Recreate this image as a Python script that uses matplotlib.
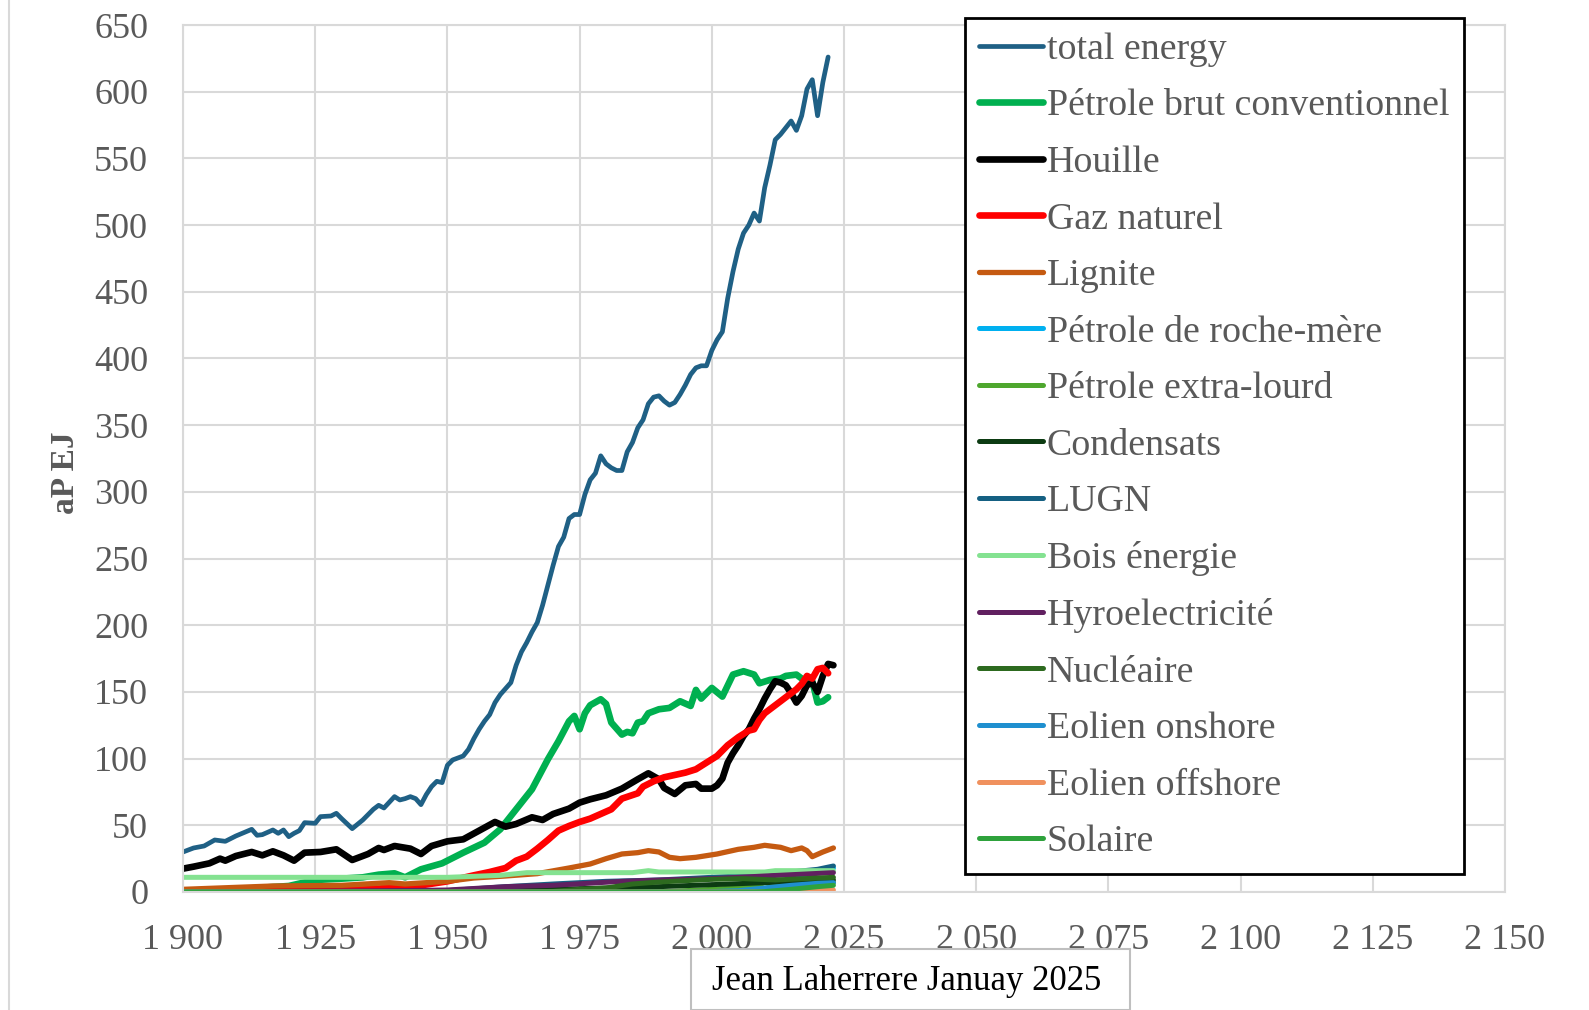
import matplotlib
matplotlib.use("Agg")
import matplotlib.pyplot as plt
from matplotlib.patches import Rectangle
from matplotlib.lines import Line2D

plt.rcParams["font.family"] = ["Liberation Serif", "DejaVu Serif"]

# ---- data (keypoint years / values, EJ) ----
total_years = [1900, 1902, 1904, 1906, 1908, 1910, 1913, 1914, 1915, 1917, 1918, 1919, 1920,
               1921, 1922, 1923, 1925, 1926, 1928, 1929, 1930, 1932, 1934, 1936, 1937, 1938,
               1940, 1941, 1942, 1943, 1944, 1945, 1946, 1947, 1948, 1949, 1950, 1951, 1953,
               1954, 1955, 1956, 1957, 1958, 1959, 1960, 1962, 1963, 1964, 1965, 1966, 1967,
               1968, 1969, 1970, 1971, 1972, 1973, 1974, 1975, 1976, 1977, 1978, 1979, 1980,
               1981, 1982, 1983, 1984, 1985, 1986, 1987, 1988, 1989, 1990, 1991, 1992, 1993,
               1994, 1995, 1996, 1997, 1998, 1999, 2000, 2001, 2002, 2003, 2004, 2005, 2006,
               2007, 2008, 2009, 2010, 2011, 2012, 2013, 2014, 2015, 2016, 2017, 2018, 2019,
               2020, 2021, 2022]
total_vals = [30, 33, 34.5, 39, 38, 42, 47, 42.5, 43, 46.5, 44, 46.5, 41.5,
              44, 46, 52, 51.5, 56.5, 57, 59, 55, 47.5, 54, 62, 65, 63,
              71.5, 69, 70, 71.5, 70, 65.5, 73, 79, 83, 82, 95, 99, 102,
              107, 115, 122, 128, 133, 142, 148, 157, 170, 180, 187, 195, 202,
              215, 230, 245, 259, 266, 280, 283, 283, 298, 309, 314, 327, 321,
              318, 316, 316, 330, 337, 348, 354, 366, 371, 372, 368, 365, 367,
              373, 380, 388, 393, 394.5, 394.5, 406, 414, 420, 445, 465, 482, 494,
              500, 509, 503, 528, 545, 564, 568, 573, 578, 571, 582, 602, 609,
              582, 607, 626]

oil_years = [1900, 1910, 1920, 1925, 1930, 1934, 1937, 1940, 1942, 1945, 1949, 1953, 1957,
             1960, 1963, 1965, 1966, 1967, 1969, 1971, 1973, 1974, 1975, 1976, 1977, 1979,
             1980, 1981, 1983, 1984, 1985, 1986, 1987, 1988, 1990, 1992, 1994, 1996, 1997,
             1998, 2000, 2002, 2004, 2006, 2008, 2009, 2011, 2013, 2014, 2016, 2017, 2018,
             2019, 2020, 2021, 2022]
oil_vals = [1, 2, 4.5, 9, 10, 11, 13, 14, 11, 17, 21.5, 29.5, 37,
            47, 62, 72, 77, 84.5, 99.5, 113, 128, 132, 122, 134, 140, 144.5,
            141, 127, 118, 120, 119, 127, 128, 134, 137, 138, 143, 139.5, 151.5,
            145, 153, 146.5, 163, 165.5, 163, 156.5, 159, 160, 162, 163, 160, 158,
            158, 142, 143, 146]

coal_years = [1900, 1902, 1905, 1907, 1908, 1910, 1913, 1915, 1917, 1919, 1921, 1923, 1926,
              1929, 1932, 1935, 1937, 1938, 1940, 1943, 1945, 1947, 1950, 1953, 1956, 1959,
              1961, 1963, 1966, 1968, 1970, 1973, 1975, 1977, 1980, 1983, 1986, 1988, 1990,
              1991, 1993, 1995, 1997, 1998, 2000, 2001, 2002, 2003, 2004, 2005, 2006, 2007,
              2008, 2009, 2010, 2011, 2012, 2013, 2014, 2015, 2016, 2017, 2018, 2019, 2020,
              2021, 2022, 2023]
coal_vals = [17.5, 19, 21.5, 25, 23.5, 27, 30, 27.5, 30.5, 27.5, 23.5, 29.5, 30,
             32, 24, 28.5, 33, 31.5, 34.5, 32.5, 28.5, 34.5, 38, 39.5, 46, 52.5,
             49, 51, 56, 54, 58.5, 62.5, 67, 69.5, 72.5, 77.5, 84.5, 89, 84.5,
             78, 73.5, 80, 81, 77.5, 77.5, 80, 85, 97, 104, 110, 117, 122,
             130, 137, 145, 152, 158, 157, 155, 149, 142, 147, 155, 157, 150,
             162, 171, 170]

gas_years = [1900, 1920, 1935, 1942, 1945, 1950, 1955, 1958, 1961, 1963, 1965, 1967, 1969,
             1971, 1973, 1975, 1977, 1979, 1981, 1983, 1986, 1987, 1989, 1991, 1995, 1997,
             1999, 2001, 2003, 2005, 2007, 2008, 2009, 2010, 2012, 2014, 2016, 2017, 2018,
             2019, 2020, 2021, 2022]
gas_vals = [0.5, 1, 2, 4, 5, 8, 12.5, 15, 18, 23.5, 26.5, 32.5, 39,
            46, 49.5, 52.5, 55, 58.5, 62, 70, 74, 79, 83, 86, 89.5, 92,
            97, 102, 110, 116, 121, 122, 129, 134, 140, 146, 152, 156, 162,
            160, 167, 168, 164]

lignite_years = [1900, 1917, 1930, 1939, 1942, 1950, 1955, 1961, 1967, 1973, 1977, 1980, 1983,
                 1986, 1988, 1990, 1992, 1994, 1997, 2001, 2005, 2008, 2010, 2013, 2015, 2017,
                 2018, 2019, 2021, 2023]
lignite_vals = [2, 4.5, 5, 7, 6, 8, 10.5, 12, 13.75, 18, 21, 25, 28.5,
                29.5, 31, 30, 26, 25, 26, 28.5, 32, 33.5, 35, 33.5, 31, 33,
                31, 26.5, 30, 33]

shale_years = [1900, 2008, 2010, 2012, 2014, 2015, 2016, 2018, 2019, 2020, 2021, 2023]
shale_vals = [0, 0, 1, 4, 8, 10, 9.5, 13, 16, 15, 15.5, 18]

heavy_years = [1900, 1990, 1995, 2000, 2008, 2010, 2012, 2015, 2023]
heavy_vals = [0, 0, 1, 2, 4, 7, 5, 6, 7]

cond_years = [1900, 1950, 1970, 1980, 1990, 2000, 2010, 2023]
cond_vals = [0, 0.5, 2, 3, 4, 5.5, 7, 9]

ngl_years = [1900, 1930, 1950, 1961, 1970, 1980, 1990, 2000, 2010, 2015, 2020, 2023]
ngl_vals = [0, 0.3, 1, 4, 6, 8, 9, 11, 13, 15, 17, 19.5]

wood_years = [1900, 1950, 1960, 1965, 1985, 1988, 1990, 2010, 2012, 2023]
wood_vals = [11, 11, 12.5, 14.5, 14.5, 16, 15, 15, 16, 16]

hydro_years = [1900, 1920, 1940, 1950, 1961, 1970, 1983, 1990, 2000, 2010, 2023]
hydro_vals = [0, 0.5, 1, 1.5, 4, 5, 8, 9, 10, 12, 14.5]

nuclear_years = [1900, 1965, 1970, 1975, 1980, 1985, 1990, 2000, 2006, 2012, 2023]
nuclear_vals = [0, 0, 0.5, 2, 3, 6, 7.5, 9.5, 10, 9, 11]

wind_on_years = [1900, 1995, 2000, 2005, 2010, 2015, 2020, 2023]
wind_on_vals = [0, 0, 0.3, 1, 3, 5, 6.5, 7]

wind_off_years = [1900, 2008, 2015, 2023]
wind_off_vals = [0, 0, 0.5, 1.5]

solar_years = [1900, 2008, 2010, 2015, 2020, 2023]
solar_vals = [0, 0, 0.3, 2, 4, 5]

series = [
    ("total energy", total_years, total_vals, "#1F6085", 3.4),
    ("Pétrole brut conventionnel", oil_years, oil_vals, "#00B050", 4.8),
    ("Houille", coal_years, coal_vals, "#000000", 4.8),
    ("Gaz naturel", gas_years, gas_vals, "#FF0000", 4.8),
    ("Lignite", lignite_years, lignite_vals, "#C55A11", 3.8),
    ("Pétrole de roche-mère", shale_years, shale_vals, "#00B0F0", 3.6),
    ("Pétrole extra-lourd", heavy_years, heavy_vals, "#4EA72E", 3.6),
    ("Condensats", cond_years, cond_vals, "#0C3B12", 3.6),
    ("LUGN", ngl_years, ngl_vals, "#156082", 3.6),
    ("Bois énergie", wood_years, wood_vals, "#84E291", 3.6),
    ("Hyroelectricité", hydro_years, hydro_vals, "#612060", 3.6),
    ("Nucléaire", nuclear_years, nuclear_vals, "#2D6A1F", 3.6),
    ("Eolien onshore", wind_on_years, wind_on_vals, "#1F8FCF", 3.6),
    ("Eolien offshore", wind_off_years, wind_off_vals, "#F0915E", 3.6),
    ("Solaire", solar_years, solar_vals, "#2EA23C", 3.6),
]

W, H = 1589, 1010
fig = plt.figure(figsize=(W / 100, H / 100), dpi=100)
ax = fig.add_axes([183 / W, 1 - 892 / H, (1505 - 183) / W, (892 - 25) / H])

for label, xs, ys, color, lw in series:
    ax.plot(xs, ys, color=color, lw=lw, label=label,
            solid_capstyle="round", solid_joinstyle="round")

ax.set_xlim(1900, 2150)
ax.set_ylim(0, 650)
xt = list(range(1900, 2151, 25))
ax.set_xticks(xt)
ax.set_xticklabels([f"{v:,}".replace(",", " ") for v in xt])
ax.set_yticks(range(0, 651, 50))
ax.grid(True, color="#D9D9D9", lw=1.5)
ax.set_axisbelow(True)
for sp in ax.spines.values():
    sp.set_color("#D9D9D9")
    sp.set_linewidth(1.5)
ax.tick_params(length=0, labelsize=26, labelcolor="#595959")
ax.tick_params(axis="x", pad=23)
ax.tick_params(axis="y", pad=25)

fig.text(66 / W, 1 - 473 / H, "aP EJ", rotation=90, ha="center", va="center",
         fontsize=24, fontweight="bold", color="#595959")

leg = ax.legend(loc="upper left", bbox_to_anchor=(965 / W, 1 - 18 / H),
                bbox_transform=fig.transFigure, frameon=True, fancybox=False,
                edgecolor="black", framealpha=1, fontsize=27.3, labelcolor="#595959",
                handlelength=1.68, handletextpad=0.1, labelspacing=0.58,
                borderpad=0.38, borderaxespad=0)
leg.get_frame().set_linewidth(2)

# source box
fig.add_artist(Rectangle((691 / W, 0), (1130 - 691) / W, 1 - 949 / H,
                         transform=fig.transFigure, facecolor="white",
                         edgecolor="#BFBFBF", lw=1.5, zorder=3))
fig.text(907 / W, 1 - 981 / H, "Jean Laherrere Januay 2025", ha="center", va="center",
         fontsize=25, color="black", zorder=4)

# outer chart border (left side only visible)
fig.add_artist(Line2D([9 / W, 9 / W], [0, 1], transform=fig.transFigure,
                      color="#D9D9D9", lw=1.5))

fig.savefig("out.png", dpi=100)
